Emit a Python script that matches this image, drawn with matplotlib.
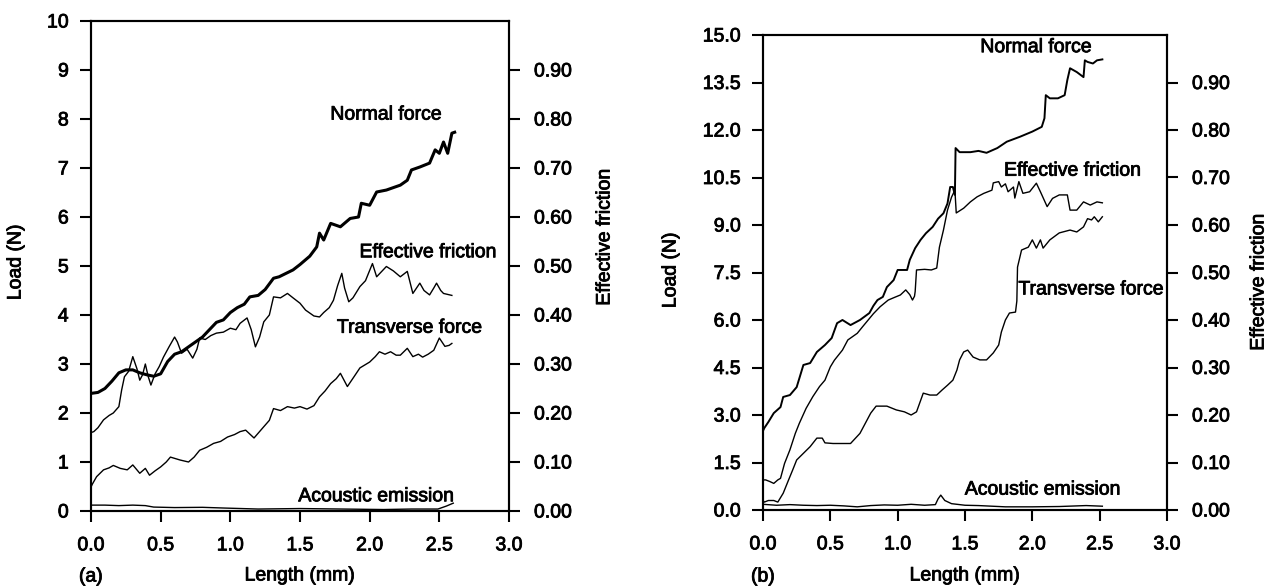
import numpy as np
import matplotlib
matplotlib.use("Agg")
import matplotlib.pyplot as plt
import matplotlib.patheffects as pe
from matplotlib.text import Text
from matplotlib.ticker import FormatStrFormatter

plt.rcParams['font.family'] = ['Liberation Sans', 'DejaVu Sans']
FS = 14

# ---- panel (a) ----
a_normal_x = [0.0, 0.05, 0.1, 0.15, 0.2, 0.25, 0.3, 0.35, 0.4, 0.45, 0.5, 0.55, 0.6, 0.65, 0.7, 0.75,
              0.8, 0.85, 0.9, 0.95, 1.0, 1.05, 1.1, 1.14, 1.2, 1.25, 1.31, 1.35, 1.4, 1.45, 1.5, 1.57,
              1.62, 1.64, 1.67, 1.72, 1.79, 1.86, 1.92, 1.94, 2.0, 2.05, 2.12, 2.22, 2.27, 2.3, 2.36,
              2.43, 2.47, 2.5, 2.53, 2.56, 2.59, 2.61]
a_normal_y = [2.4, 2.42, 2.5, 2.65, 2.82, 2.88, 2.88, 2.82, 2.78, 2.75, 2.8, 3.05, 3.2, 3.25, 3.35, 3.45,
              3.55, 3.7, 3.85, 3.9, 4.05, 4.15, 4.22, 4.37, 4.4, 4.52, 4.75, 4.78, 4.85, 4.92, 5.03, 5.2,
              5.39, 5.67, 5.53, 5.87, 5.8, 5.97, 6.0, 6.28, 6.24, 6.51, 6.55, 6.65, 6.75, 6.96, 7.02,
              7.1, 7.37, 7.3, 7.53, 7.3, 7.71, 7.73]

a_fric_x = [0.0, 0.02, 0.05, 0.09, 0.13, 0.16, 0.2, 0.22, 0.24, 0.27, 0.3, 0.33, 0.35, 0.37, 0.39, 0.41,
            0.43, 0.46, 0.49, 0.52, 0.56, 0.6, 0.62, 0.65, 0.69, 0.73, 0.76, 0.78, 0.82, 0.86, 0.9,
            0.95, 1.0, 1.04, 1.07, 1.12, 1.15, 1.18, 1.21, 1.24, 1.28, 1.31, 1.36, 1.41, 1.45, 1.5,
            1.54, 1.57, 1.6, 1.64, 1.67, 1.71, 1.74, 1.77, 1.8, 1.82, 1.85, 1.88, 1.93, 1.97, 2.02,
            2.05, 2.09, 2.12, 2.17, 2.22, 2.27, 2.31, 2.36, 2.39, 2.43, 2.46, 2.48, 2.51, 2.53, 2.56, 2.59]
a_fric_y = [1.6, 1.62, 1.7, 1.86, 1.95, 2.0, 2.13, 2.47, 2.74, 2.85, 3.15, 2.9, 2.67, 2.78, 3.0, 2.75,
            2.57, 2.8, 2.95, 3.14, 3.35, 3.55, 3.45, 3.22, 3.3, 3.12, 3.3, 3.53, 3.5, 3.58, 3.63,
            3.65, 3.73, 3.7, 3.83, 3.94, 3.7, 3.35, 3.55, 3.86, 4.0, 4.37, 4.35, 4.44, 4.35, 4.24,
            4.1, 4.04, 3.98, 3.96, 4.05, 4.15, 4.3, 4.6, 4.85, 4.55, 4.27, 4.35, 4.58, 4.7, 5.05,
            4.78, 4.9, 4.99, 4.9, 4.78, 4.89, 4.44, 4.65, 4.5, 4.41, 4.55, 4.65, 4.5, 4.44, 4.42, 4.4]

a_trans_x = [0.0, 0.01, 0.04, 0.09, 0.13, 0.16, 0.21, 0.26, 0.3, 0.35, 0.39, 0.42, 0.46, 0.5, 0.54, 0.57,
             0.64, 0.7, 0.74, 0.78, 0.83, 0.88, 0.93, 0.98, 1.03, 1.07, 1.11, 1.17, 1.24, 1.28, 1.31,
             1.36, 1.41, 1.46, 1.5, 1.55, 1.6, 1.64, 1.68, 1.72, 1.76, 1.79, 1.84, 1.89, 1.93, 2.0,
             2.04, 2.07, 2.11, 2.15, 2.19, 2.22, 2.27, 2.31, 2.35, 2.38, 2.42, 2.46, 2.5, 2.54, 2.57, 2.59]
a_trans_y = [0.49, 0.55, 0.7, 0.84, 0.88, 0.93, 0.87, 0.84, 0.94, 0.77, 0.87, 0.73, 0.82, 0.9, 1.0, 1.1,
             1.04, 1.0, 1.1, 1.24, 1.3, 1.38, 1.42, 1.51, 1.56, 1.62, 1.65, 1.49, 1.72, 1.85, 2.09,
             2.05, 2.13, 2.1, 2.13, 2.08, 2.15, 2.33, 2.45, 2.6, 2.7, 2.81, 2.54, 2.75, 2.92, 3.04,
             3.15, 3.25, 3.2, 3.25, 3.18, 3.18, 3.32, 3.15, 3.2, 3.14, 3.2, 3.28, 3.53, 3.36, 3.38, 3.42]

a_ae_x = [0.0, 0.1, 0.2, 0.3, 0.39, 0.45, 0.6, 0.8, 0.96, 1.2, 1.5, 1.8, 2.1, 2.3, 2.49, 2.55, 2.6]
a_ae_y = [0.12, 0.12, 0.11, 0.12, 0.11, 0.08, 0.07, 0.075, 0.06, 0.04, 0.05, 0.04, 0.03, 0.04, 0.04, 0.1, 0.16]

# ---- panel (b) ----
b_normal_x = [0.0, 0.01, 0.04, 0.08, 0.13, 0.15, 0.2, 0.25, 0.3, 0.35, 0.4, 0.46, 0.51, 0.55, 0.59,
              0.65, 0.72, 0.79, 0.82, 0.85, 0.89, 0.92, 0.97, 1.0, 1.07, 1.09, 1.13, 1.17, 1.21, 1.26,
              1.3, 1.34, 1.37, 1.39, 1.41, 1.425, 1.43, 1.46, 1.54, 1.6, 1.66, 1.74, 1.81, 1.91, 2.0,
              2.07, 2.09, 2.1, 2.13, 2.19, 2.24, 2.26, 2.28, 2.33, 2.38, 2.39, 2.41, 2.45, 2.48, 2.52]
b_normal_y = [2.5, 2.59, 2.78, 3.06, 3.25, 3.57, 3.63, 3.88, 4.58, 4.64, 4.99, 5.21, 5.43, 5.9, 6.0,
              5.84, 6.0, 6.22, 6.45, 6.63, 6.73, 7.04, 7.26, 7.58, 7.58, 7.9, 8.27, 8.53, 8.74, 8.94,
              9.2, 9.37, 9.68, 10.2, 10.2, 9.95, 11.43, 11.3, 11.3, 11.34, 11.28, 11.43, 11.63, 11.79, 11.95,
              12.1, 12.37, 13.1, 13.0, 13.0, 13.1, 13.58, 13.95, 13.83, 13.67, 14.2, 14.15, 14.1, 14.2, 14.23]

b_fric_x = [0.0, 0.02, 0.05, 0.08, 0.11, 0.13, 0.16, 0.2, 0.24, 0.27, 0.32, 0.37, 0.42, 0.46, 0.5, 0.53,
            0.59, 0.63, 0.7, 0.74, 0.82, 0.87, 0.93, 0.98, 1.02, 1.06, 1.09, 1.11, 1.125, 1.13, 1.14,
            1.2, 1.25, 1.29, 1.31, 1.34, 1.37, 1.4, 1.425, 1.435, 1.49, 1.54, 1.59, 1.64, 1.7, 1.71,
            1.75, 1.77, 1.8, 1.82, 1.86, 1.87, 1.9, 1.93, 1.98, 2.03, 2.06, 2.11, 2.15, 2.2, 2.26,
            2.28, 2.33, 2.38, 2.43, 2.48, 2.52]
b_fric_y = [0.95, 0.95, 0.9, 0.84, 0.95, 1.0, 1.47, 1.9, 2.42, 2.74, 3.21, 3.58, 3.9, 4.1, 4.52, 4.73,
            5.05, 5.37, 5.58, 5.79, 6.2, 6.42, 6.63, 6.72, 6.79, 6.95, 6.8, 6.63, 6.75, 6.9, 7.58,
            7.6, 7.58, 7.64, 8.3, 8.84, 9.47, 9.88, 10.1, 9.38, 9.53, 9.73, 9.89, 10.0, 10.1, 10.33,
            10.37, 10.2, 10.3, 10.05, 10.2, 9.85, 10.37, 10.0, 10.05, 10.32, 10.05, 9.58, 9.84, 9.95, 9.95,
            9.47, 9.47, 9.73, 9.63, 9.73, 9.7]

b_trans_x = [0.0, 0.01, 0.04, 0.08, 0.11, 0.15, 0.19, 0.22, 0.25, 0.3, 0.35, 0.4, 0.44, 0.46, 0.52, 0.58,
             0.65, 0.72, 0.8, 0.84, 0.92, 0.99, 1.05, 1.1, 1.14, 1.19, 1.24, 1.29, 1.33, 1.37, 1.41,
             1.44, 1.46, 1.49, 1.52, 1.56, 1.61, 1.66, 1.71, 1.75, 1.77, 1.8, 1.83, 1.875, 1.885, 1.89,
             1.92, 1.97, 2.0, 2.03, 2.06, 2.08, 2.13, 2.2, 2.28, 2.33, 2.38, 2.41, 2.44, 2.46, 2.49, 2.52]
b_trans_y = [0.3, 0.25, 0.3, 0.3, 0.25, 0.53, 0.95, 1.26, 1.58, 1.79, 2.0, 2.27, 2.27, 2.12, 2.1, 2.1,
             2.1, 2.42, 3.06, 3.28, 3.28, 3.16, 3.1, 3.0, 3.1, 3.69, 3.63, 3.63, 3.79, 3.94, 4.1,
             4.42, 4.74, 4.99, 5.05, 4.83, 4.74, 4.74, 4.96, 5.21, 5.62, 6.0, 6.22, 6.25, 6.6, 7.67,
             8.21, 8.3, 8.53, 8.27, 8.53, 8.27, 8.53, 8.75, 8.84, 8.78, 8.94, 9.2, 9.16, 9.26, 9.1, 9.26]

b_ae_x = [0.0, 0.1, 0.2, 0.3, 0.4, 0.5, 0.6, 0.7, 0.8, 0.9, 1.0, 1.1, 1.2, 1.28, 1.3, 1.32, 1.35, 1.4,
          1.5, 1.6, 1.8, 2.0, 2.2, 2.4, 2.52]
b_ae_y = [0.18, 0.15, 0.17, 0.15, 0.14, 0.15, 0.13, 0.1, 0.14, 0.16, 0.15, 0.18, 0.15, 0.17, 0.35, 0.47,
          0.3, 0.2, 0.15, 0.14, 0.1, 0.1, 0.11, 0.14, 0.12]

labels = ["Normal force", "Effective friction", "Transverse force", "Acoustic emission"]
a_label_pos = [(2.12, 8.08), (2.42, 5.27), (2.29, 3.73), (2.05, 0.29)]
b_label_pos = [(2.03, 14.6), (2.30, 10.7), (2.44, 6.95), (2.08, 0.63)]

W, H = 1268, 588
fig = plt.figure(figsize=(W / 100, H / 100), dpi=100)


def setup(ax, ymax, yticks, yfmt):
    ax.set_xlim(0, 3)
    ax.set_ylim(0, ymax)
    ax.set_xticks(np.arange(0, 3.01, 0.5))
    ax.xaxis.set_major_formatter(FormatStrFormatter('%.1f'))
    ax.set_yticks(yticks)
    ax.yaxis.set_major_formatter(FormatStrFormatter(yfmt))
    ax.tick_params(direction='out', length=8, width=1.5, labelsize=FS)
    ax.tick_params(axis='x', pad=11)
    ax.tick_params(axis='y', pad=8)
    for s in ax.spines.values():
        s.set_linewidth(1.5)
    ax2 = ax.twinx()
    ax2.set_ylim(0, 1.0)
    ax2.set_yticks(np.arange(0, 0.91, 0.1))
    ax2.yaxis.set_major_formatter(FormatStrFormatter('%.2f'))
    ax2.tick_params(direction='out', length=8, width=1.5, labelsize=FS, pad=10)
    for s in ax2.spines.values():
        s.set_linewidth(1.5)
    return ax2


# panel (a)
axa = fig.add_axes([91 / W, 1 - 511 / H, 418 / W, 490 / H])
setup(axa, 10, np.arange(0, 11, 1), '%d')
axa.plot(a_normal_x, a_normal_y, color='black', lw=2.2)
axa.plot(a_fric_x, a_fric_y, color='black', lw=1.0)
axa.plot(a_trans_x, a_trans_y, color='black', lw=1.0)
axa.plot(a_ae_x, a_ae_y, color='black', lw=1.0)
for lab, (tx, ty) in zip(labels, a_label_pos):
    axa.text(tx, ty, lab, ha='center', va='center', fontsize=FS)

# panel (b)
axb = fig.add_axes([763 / W, 1 - 510 / H, 404 / W, 475 / H])
setup(axb, 15, np.arange(0, 15.01, 1.5), '%.1f')
axb.plot(b_normal_x, b_normal_y, color='black', lw=1.4)
axb.plot(b_fric_x, b_fric_y, color='black', lw=1.0)
axb.plot(b_trans_x, b_trans_y, color='black', lw=1.0)
axb.plot(b_ae_x, b_ae_y, color='black', lw=1.0)
for lab, (tx, ty) in zip(labels, b_label_pos):
    axb.text(tx, ty, lab, ha='center', va='center', fontsize=FS)

# axis titles and panel letters
fig.text(16 / W, 1 - 262 / H, "Load (N)", rotation=90, ha='center', va='center', fontsize=FS)
fig.text(605 / W, 1 - 237 / H, "Effective friction", rotation=90, ha='center', va='center', fontsize=FS)
fig.text(671 / W, 1 - 270 / H, "Load (N)", rotation=90, ha='center', va='center', fontsize=FS)
fig.text(1259 / W, 1 - 282 / H, "Effective friction", rotation=90, ha='center', va='center', fontsize=FS)
fig.text(300 / W, 1 - 576 / H, "Length (mm)", ha='center', va='center', fontsize=FS)
fig.text(965 / W, 1 - 576 / H, "Length (mm)", ha='center', va='center', fontsize=FS)
fig.text(91 / W, 1 - 577 / H, "(a)", ha='center', va='center', fontsize=FS)
fig.text(763 / W, 1 - 577 / H, "(b)", ha='center', va='center', fontsize=FS)

# the scanned original has slightly heavier type
for t in fig.findobj(Text):
    t.set_path_effects([pe.withStroke(linewidth=0.6, foreground='black')])

fig.savefig("out.png", dpi=100)
